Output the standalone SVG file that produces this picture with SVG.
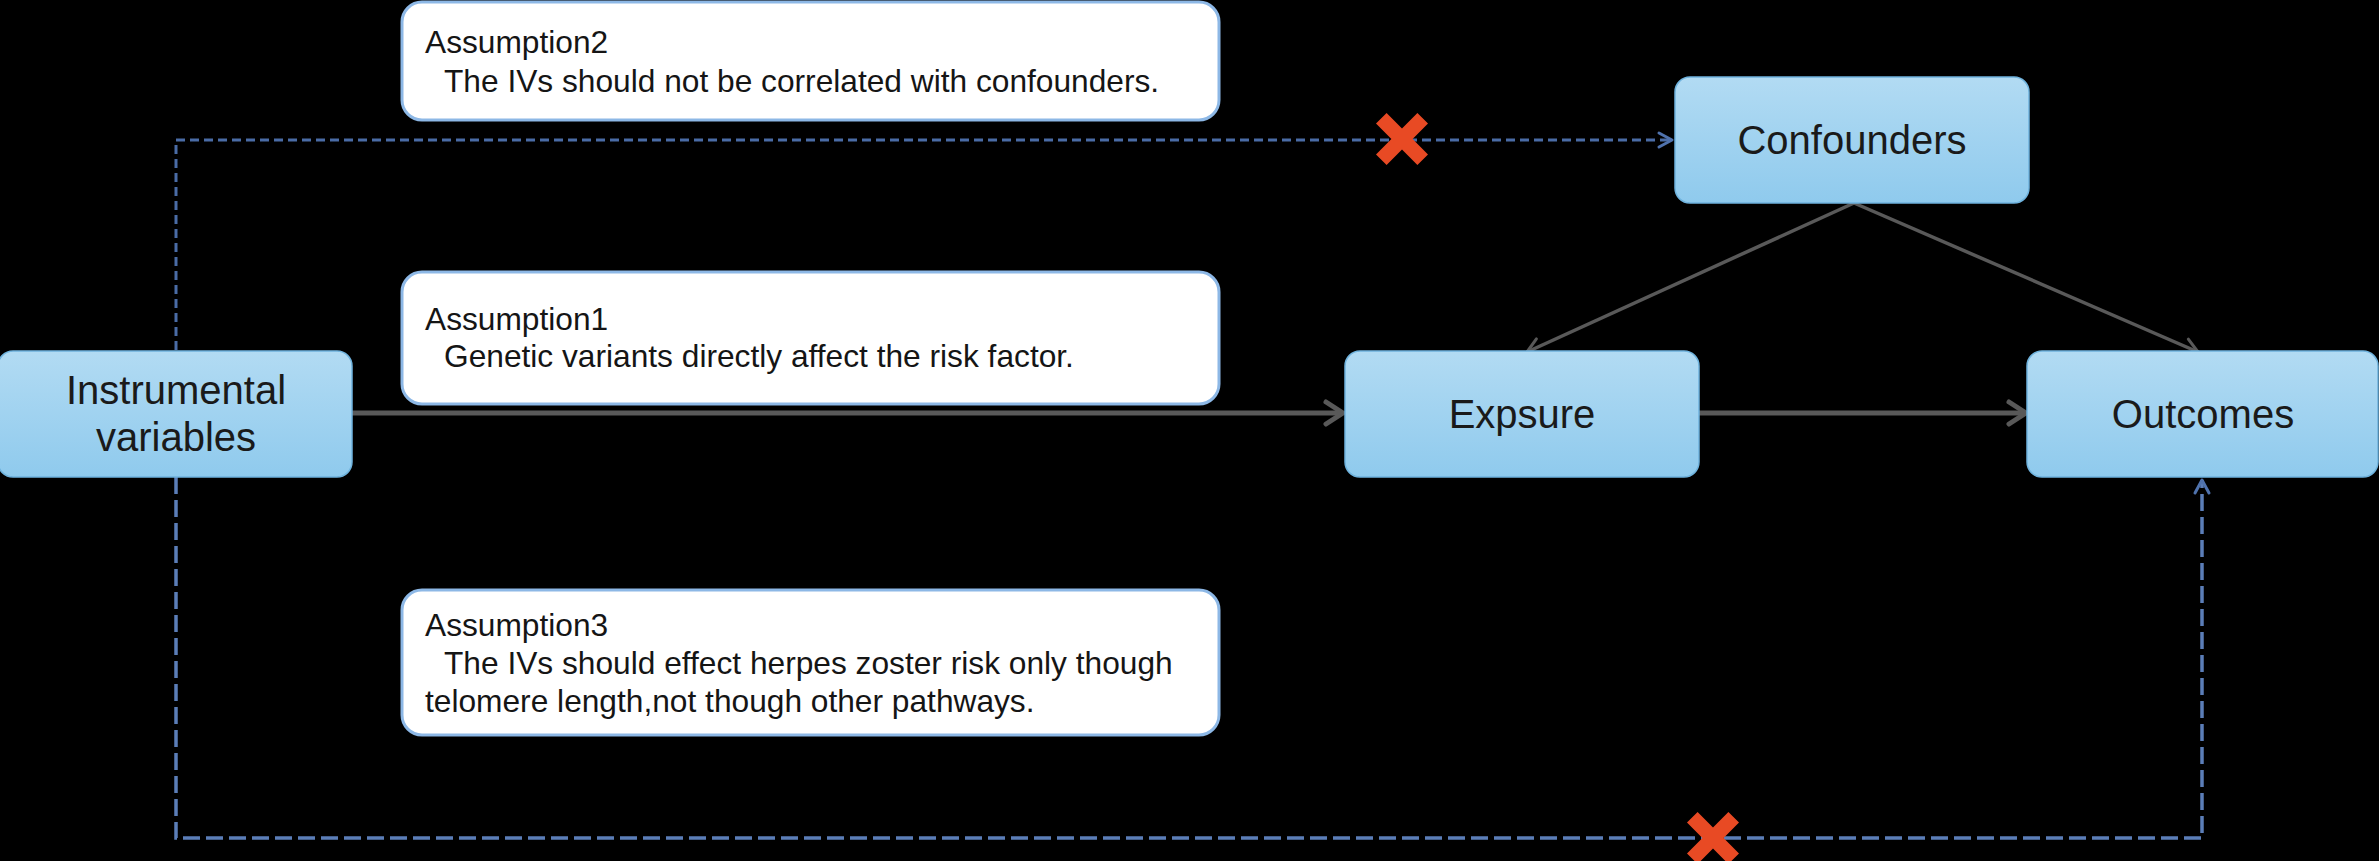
<svg xmlns="http://www.w3.org/2000/svg" width="2379" height="861" viewBox="0 0 2379 861">
<style>
.node{fill:url(#nodeGrad);stroke:#6FB3DE;stroke-width:1.5}
.ntext{font-family:"Liberation Sans",Arial,sans-serif;font-size:40px;fill:#1a1a1a;text-anchor:middle}
.abox{fill:#ffffff;stroke:#8DB8E6;stroke-width:3}
.atext{font-family:"Liberation Sans",Arial,sans-serif;font-size:31.7px;fill:#151515}
.solid{fill:none;stroke:#595959;stroke-width:5}
.diag{fill:none;stroke:#595959;stroke-width:3.5}
.dashA{fill:none;stroke:#4A6CA6;stroke-width:3;stroke-dasharray:9 5}
.dashB{fill:none;stroke:#5B7EB8;stroke-width:3.5;stroke-dasharray:17 6}
.cross{fill:#E84A24}
</style>
<defs>
<linearGradient id="nodeGrad" x1="0" y1="0" x2="0" y2="1">
<stop offset="0" stop-color="#B2DBF3"/>
<stop offset="1" stop-color="#8FCAED"/>
</linearGradient>
<marker id="arrGray" markerUnits="userSpaceOnUse" viewBox="0 0 26 30" markerWidth="26" markerHeight="30" refX="22" refY="15" orient="auto">
<path d="M5,4 L22,15 L5,26" fill="none" stroke="#595959" stroke-width="5" stroke-linecap="round" stroke-linejoin="round"/>
</marker>
<marker id="arrGrayThin" markerUnits="userSpaceOnUse" viewBox="0 0 20 20" markerWidth="20" markerHeight="20" refX="17" refY="10" orient="auto">
<path d="M3,2 L17,10 L3,18" fill="none" stroke="#595959" stroke-width="3" stroke-linecap="round" stroke-linejoin="round"/>
</marker>
<marker id="arrBlue" markerUnits="userSpaceOnUse" viewBox="0 0 20 20" markerWidth="20" markerHeight="20" refX="17" refY="10" orient="auto">
<path d="M4,3 L17,10 L4,17" fill="none" stroke="#4F72AD" stroke-width="3" stroke-linecap="round" stroke-linejoin="round"/>
</marker>
</defs>
<rect x="0" y="0" width="2379" height="861" fill="#000000"/>

<g id="connectors">
<path class="dashA" d="M176,350 V140 H1672" marker-end="url(#arrBlue)"/>
<path class="dashB" d="M176,477 V838 H2202 V480" marker-end="url(#arrBlue)"/>
<line class="solid" x1="352" y1="413" x2="1343" y2="413" marker-end="url(#arrGray)"/>
<line class="solid" x1="1699" y1="413" x2="2026" y2="413" marker-end="url(#arrGray)"/>
<line class="diag" x1="1854" y1="203" x2="1527" y2="352" marker-end="url(#arrGrayThin)"/>
<line class="diag" x1="1854" y1="203" x2="2198" y2="352" marker-end="url(#arrGrayThin)"/>
<polygon class="cross" transform="translate(1402,139)" points="0,-10.6 15.4,-26 26,-15.4 10.6,0 26,15.4 15.4,26 0,10.6 -15.4,26 -26,15.4 -10.6,0 -26,-15.4 -15.4,-26"/>
<polygon class="cross" transform="translate(1713,838)" points="0,-10.6 15.4,-26 26,-15.4 10.6,0 26,15.4 15.4,26 0,10.6 -15.4,26 -26,15.4 -10.6,0 -26,-15.4 -15.4,-26"/>
</g>

<g id="assumption2">
<rect class="abox" x="402" y="2" width="817" height="118" rx="20"/>
<text class="atext" x="425" y="53">Assumption2</text>
<text class="atext" x="444" y="92">The IVs should not be correlated with confounders.</text>
</g>
<g id="assumption1">
<rect class="abox" x="402" y="272" width="817" height="132" rx="20"/>
<text class="atext" x="425" y="330">Assumption1</text>
<text class="atext" x="444" y="367">Genetic variants directly affect the risk factor.</text>
</g>
<g id="assumption3">
<rect class="abox" x="402" y="590" width="817" height="145" rx="20"/>
<text class="atext" x="425" y="636">Assumption3</text>
<text class="atext" x="444" y="674">The IVs should effect herpes zoster risk only though</text>
<text class="atext" x="425" y="712">telomere length,not though other pathways.</text>
</g>

<g id="instrumental">
<rect class="node" x="-2" y="351" width="354" height="126" rx="15"/>
<text class="ntext" x="176" y="404">Instrumental</text>
<text class="ntext" x="176" y="451">variables</text>
</g>
<g id="confounders">
<rect class="node" x="1675" y="77" width="354" height="126" rx="15"/>
<text class="ntext" x="1852" y="154">Confounders</text>
</g>
<g id="expsure">
<rect class="node" x="1345" y="351" width="354" height="126" rx="15"/>
<text class="ntext" x="1522" y="428">Expsure</text>
</g>
<g id="outcomes">
<rect class="node" x="2027" y="351" width="351" height="126" rx="15"/>
<text class="ntext" x="2203" y="428">Outcomes</text>
</g>
</svg>
